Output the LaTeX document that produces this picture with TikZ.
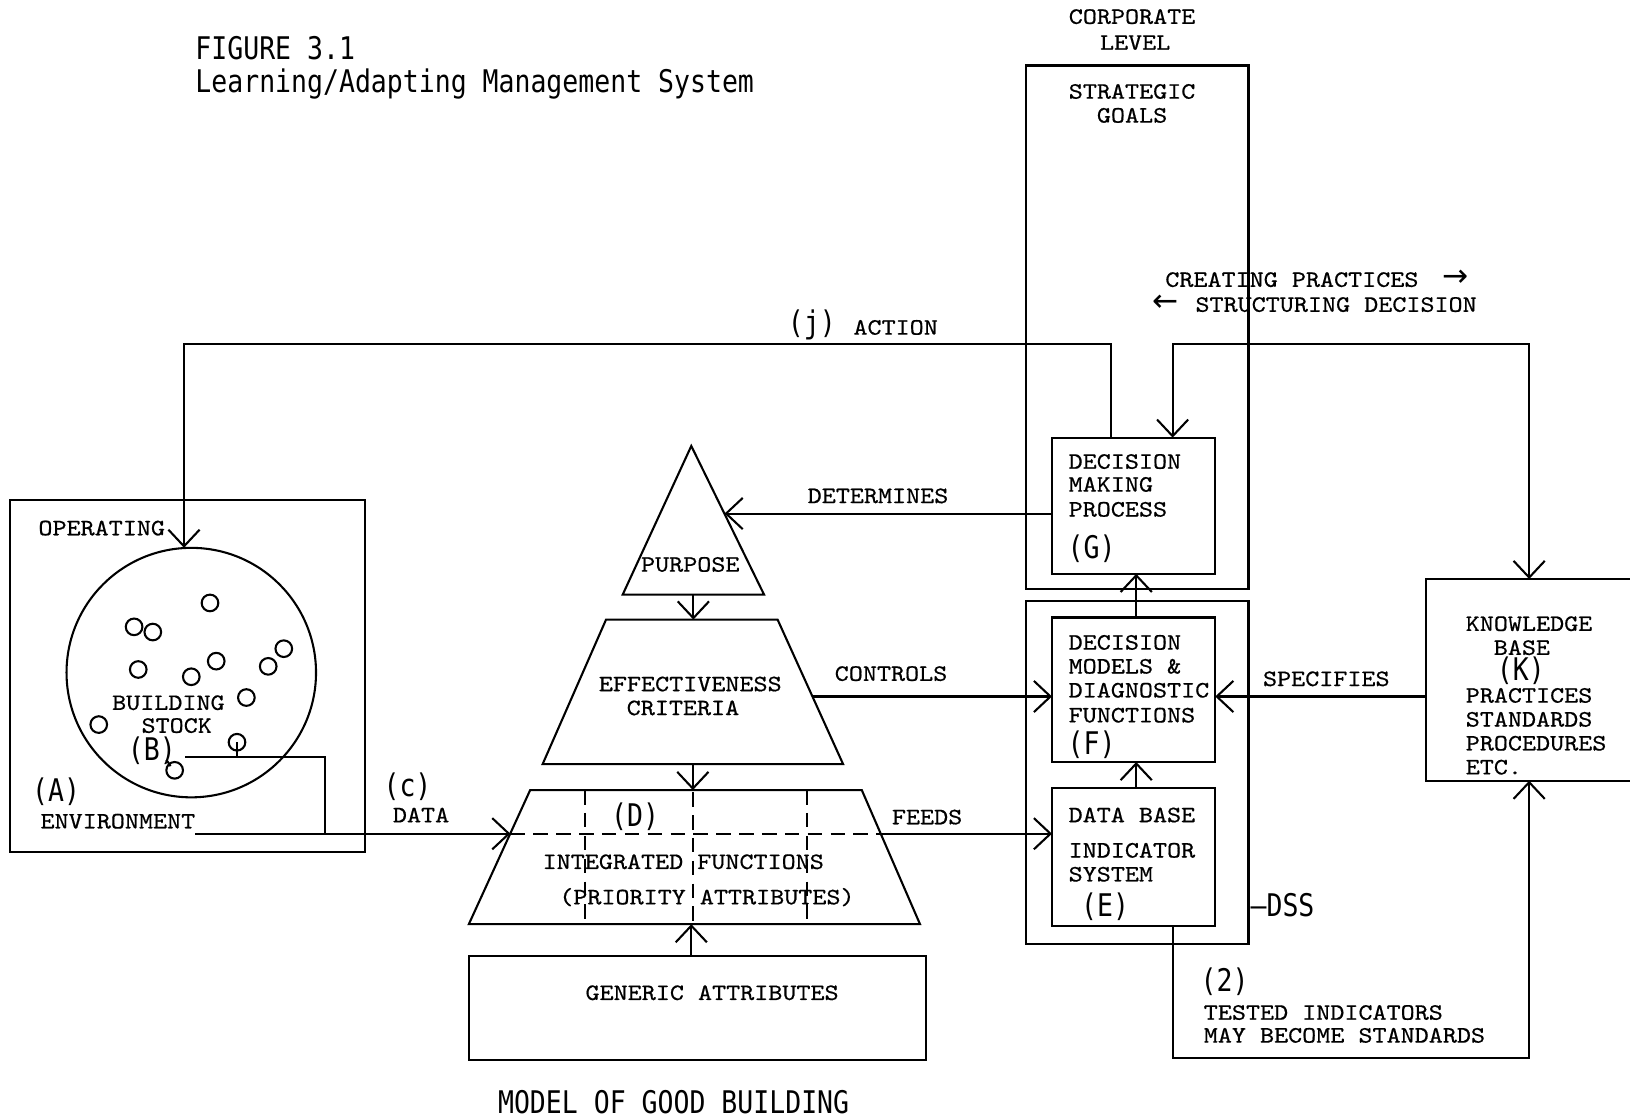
\documentclass[tikz,border=0pt]{standalone}
\usepackage{fontspec}
\usetikzlibrary{arrows.meta,calc}
\newfontfamily\bodyfnt[FakeStretch=1.14,FakeBold=0.6]{lmmono10-regular.otf}
\newfontfamily\labfnt[FakeStretch=0.85]{DejaVu Sans Mono}
\newfontfamily\arrfnt{DejaVu Sans}
\begin{document}
\begin{tikzpicture}[x=1pt,y=-1pt,
  every node/.style={inner sep=0pt, outer sep=0pt},
  body/.style={font=\bodyfnt\fontsize{22.6}{23}\selectfont},
  lab/.style={font=\labfnt\fontsize{30}{32}\selectfont},
  arrtxt/.style={font=\arrfnt\fontsize{30}{30}\selectfont},
  box/.style={draw, line width=2pt, rectangle},
  ln/.style={line width=2pt},
  arr/.style={line width=2pt, -{Straight Barb[length=16pt,width=30pt]}},
  arrb/.style={line width=2pt, {Straight Barb[length=16pt,width=30pt]}-{Straight Barb[length=16pt,width=30pt]}},
  dsh/.style={line width=2pt, dash pattern=on 14pt off 8pt},
  sc/.style={draw, circle, line width=2pt, minimum size=16pt},
]
\useasboundingbox (0,0) rectangle (1568,1077);
\fill[white] (0,0) rectangle (1568,1077);
\clip (0,0) rectangle (1568,1077);

% ---------- title ----------
\node[lab, anchor=base west] (ttl1) at (188,57) {FIGURE 3.1};
\node[lab, anchor=base west] (ttl2) at (188,89) {Learning/Adapting Management System};
\node[lab, anchor=base] (mdl) at (648,1071) {MODEL OF GOOD BUILDING};

% ---------- boxes ----------
\node[box, minimum width=341pt, minimum height=339pt] (A) at (180.5,650.5) {};
\node[draw, circle, line width=2pt, minimum size=240pt] (BS) at (184,647) {};
\node[box, minimum width=214pt, minimum height=504pt] (SG) at (1094,315) {};
\node[box, minimum width=157pt, minimum height=131pt] (G) at (1090.5,486.5) {};
\node[box, minimum width=214pt, minimum height=330pt] (DSS) at (1094,743) {};
\node[box, minimum width=157pt, minimum height=139pt] (F) at (1090.5,663.5) {};
\node[box, minimum width=157pt, minimum height=133pt] (E) at (1090.5,824.5) {};
\node[box, minimum width=328pt, minimum height=194pt] (K) at (1536,654) {};
\node[box, minimum width=440pt, minimum height=100pt] (GEN) at (671,970) {};

% ---------- small circles (building stock) ----------
\node[sc] (s1) at (202,580) {};
\node[sc] (s2) at (129,603) {};
\node[sc] (s3) at (147,608) {};
\node[sc] (s4) at (273,624) {};
\node[sc] (s5) at (258,641) {};
\node[sc] (s6) at (133,644) {};
\node[sc] (s7) at (208,636) {};
\node[sc] (s8) at (184,651) {};
\node[sc] (s9) at (237,671) {};
\node[sc] (s10) at (95,697) {};
\node[sc] (s11) at (228,714) {};
\node[sc] (s12) at (168,741) {};

% ---------- pyramid shapes ----------
\coordinate (Ptop) at (665,429);
\coordinate (Pbl) at (599,572);
\coordinate (Pbr) at (735,572);
\coordinate (ECtl) at (583,596);
\coordinate (ECtr) at (748,596);
\coordinate (ECbr) at (811,735);
\coordinate (ECbl) at (522,735);
\coordinate (Dtl) at (510,760);
\coordinate (Dtr) at (829,760);
\coordinate (Dbr) at (885,889);
\coordinate (Dbl) at (451,889);
\draw[ln] (Ptop) -- (Pbr) -- (Pbl) -- cycle;
\draw[ln] (ECtl) -- (ECtr) -- (ECbr) -- (ECbl) -- cycle;
\draw[ln] (Dtl) -- (Dtr) -- (Dbr) -- (Dbl) -- cycle;

% points on the pyramid edges
\coordinate (Pr) at (697,494);
\coordinate (ECr) at (781.5,670);
\coordinate (Din) at (491,802);
\coordinate (Dout) at (847,802);

% dashed divisions in D
\draw[dsh] (Din) -- (Dout);
\draw[dsh] (563,760) -- (563,889);
\draw[dsh] (667,762) -- (667,889);
\draw[dsh] (776,760) -- (776,889);

% ---------- connectors ----------
\coordinate (m1) at ($(Pbl)!0.5!(Pbr)$);
\draw[arr] (m1) -- (m1 |- ECtl);
\coordinate (m2) at ($(ECbl)!0.5!(ECbr)$);
\draw[arr] (m2) -- (m2 |- Dtl);
\draw[arr] ([xshift=-6pt]GEN.north) -- ([xshift=-6pt]GEN.north |- Dbl);

% action loop
\draw[arr] ([xshift=-21.5pt]G.north) -- ++(0,-90) -| ([xshift=-7pt]BS.north);
% creating practices / structuring decision
\draw[arrb] ([xshift=37.5pt]G.north) -- ++(0,-90) -| ([xshift=99pt]K.north west);

% determines / controls / feeds / specifies
\draw[arr] (Pr -| G.west) -- (Pr);
\draw[arr] (ECr) -- (ECr -| F.west);
\draw[arr] (Dout) -- (Dout -| E.west);
\draw[arr] (K.west |- ECr) -- (ECr -| F.east);

% E -> F -> G
\draw[arr] ([xshift=2.5pt]F.north) -- ([xshift=2.5pt]G.south);
\draw[arr] ([xshift=2.5pt]E.north) -- ([xshift=2.5pt]F.south);

% tested indicators loop
\draw[arr] ([xshift=37.5pt]E.south) -- ++(0,127) -| ([xshift=99pt]K.south west);

% data from building stock and environment
\coordinate (b0) at (178,728);
\coordinate (b1) at (313,728);
\coordinate (b2) at (313,802);
\coordinate (env) at (188,802);
\draw[ln] (b0) -- (b1) -- (b2);
\draw[ln] (s11.center) -- (s11.center |- b0);
\draw[arr] (env) -- (Din);
\draw[ln] (160,731) .. controls (163,735) .. (164,737);

% ---------- texts ----------
\node[body] (cl1) at (1089,16) {CORPORATE};
\node[body] (cl2) at (1092,41) {LEVEL};
\node[body] (sg1) at (1089,88) {STRATEGIC};
\node[body] (sg2) at (1089,111) {GOALS};

\node[body, anchor=west] (cp) at (1121,269) {CREATING PRACTICES};
\node[arrtxt] (cpa) at (1400,268) {→};
\node[body, anchor=west] (sd) at (1150,293) {STRUCTURING DECISION};
\node[arrtxt] (sda) at (1121,292) {←};

\node[lab] (jl) at (781,313) {(j)};
\node[body, anchor=west] (act) at (821,315) {ACTION};
\node[body, anchor=west] (det) at (777,477) {DETERMINES};
\node[body, anchor=west] (ctl) at (803,648) {CONTROLS};
\node[body, anchor=west] (fds) at (858,786) {FEEDS};
\node[body, anchor=west] (spc) at (1215,653) {SPECIFIES};

\node[body, anchor=west] (g1) at (1028,444) {DECISION};
\node[body, anchor=west] (g2) at (1028,466) {MAKING};
\node[body, anchor=west] (g3) at (1028,490) {PROCESS};
\node[lab, anchor=west] (gl) at (1027,528) {(G)};

\node[body, anchor=west] (f1) at (1028,618) {DECISION};
\node[body, anchor=west] (f2) at (1028,641) {MODELS \&};
\node[body, anchor=west] (f3) at (1028,664) {DIAGNOSTIC};
\node[body, anchor=west] (f4) at (1028,688) {FUNCTIONS};
\node[lab, anchor=west] (fl) at (1027,716) {(F)};

\node[body, anchor=west] (e1) at (1028,784) {DATA BASE};
\node[body, anchor=west] (e2) at (1028,818) {INDICATOR};
\node[body, anchor=west] (e3) at (1028,841) {SYSTEM};
\node[lab, anchor=west] (el) at (1040,872) {(E)};
\node[lab, anchor=west] (dssl) at (1203,871) {—DSS};

\node[body, anchor=west] (k1) at (1410,600) {KNOWLEDGE};
\node[body] (k2) at (1464,623) {BASE};
\node[lab] (kl) at (1463,645) {(K)};
\node[body, anchor=west] (k3) at (1410,669) {PRACTICES};
\node[body, anchor=west] (k4) at (1410,692) {STANDARDS};
\node[body, anchor=west] (k5) at (1410,715) {PROCEDURES};
\node[body, anchor=west] (k6) at (1410,738) {ETC.};

\node[lab, anchor=west] (l2) at (1155,944) {(2)};
\node[body, anchor=west] (ti1) at (1158,974) {TESTED INDICATORS};
\node[body, anchor=west] (ti2) at (1158,996) {MAY BECOME STANDARDS};

\node[body] (pur) at (664,543) {PURPOSE};
\node[body] (ec1) at (664,658) {EFFECTIVENESS};
\node[body] (ec2) at (657,681) {CRITERIA};
\node[lab] (dl) at (611,786) {(D)};
\node[body, anchor=west] (d1) at (522,829) {INTEGRATED FUNCTIONS};
\node[body, anchor=west] (d2) at (538,863) {(PRIORITY ATTRIBUTES)};
\node[body] (gen) at (685,955) {GENERIC ATTRIBUTES};

\node[body, anchor=west] (op) at (37,508) {OPERATING};
\node[body] (bs1) at (162,676) {BUILDING};
\node[body] (bs2) at (170,698) {STOCK};
\node[lab] (bl) at (146,722) {(B)};
\node[lab] (al) at (54,762) {(A)};
\node[body, anchor=west] (envt) at (39,790) {ENVIRONMENT};
\node[lab] (cl) at (392,757) {(c)};
\node[body, anchor=west] (dat) at (378,784) {DATA};
\end{tikzpicture}
\end{document}
